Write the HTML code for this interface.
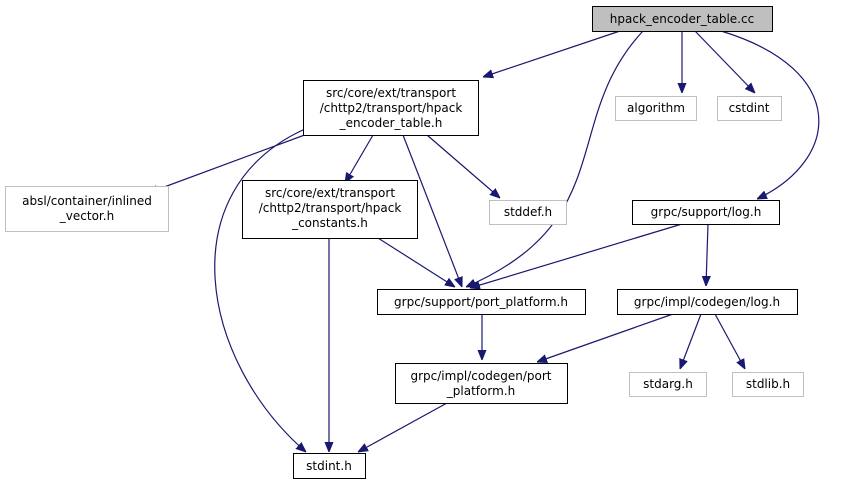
<!DOCTYPE html>
<html><head><meta charset="utf-8"><style>
html,body{margin:0;padding:0;background:#fff;}
svg{display:block;}
text{font-family:"DejaVu Sans","Liberation Sans",sans-serif;font-size:12px;fill:#000;}
</style></head><body>
<svg width="843" height="484" viewBox="0 0 843 484" xmlns="http://www.w3.org/2000/svg">
<defs><marker id="a" viewBox="0 0 10 10" refX="10" refY="5" markerWidth="10" markerHeight="10" markerUnits="userSpaceOnUse" orient="auto"><path d="M0,1 L10,5 L0,9 z" fill="#191970" stroke="#191970"/></marker></defs>
<g fill="none" stroke="#191970" stroke-width="1.2" marker-end="url(#a)">
<path d="M620,31 L483,77"/>
<path d="M682,31 L682,93"/>
<path d="M695,31 L755,93"/>
<path d="M721,31 C850,70 840,160 757,199"/>
<path d="M643,31 C560,120 620,220 466,287"/>
<path d="M310,133 L148,193"/>
<path d="M305,129 C170,190 200,360 306,452"/>
<path d="M373,135 L345,183"/>
<path d="M403,135 L462,287"/>
<path d="M427,135 L500,198"/>
<path d="M329,238 L329,452"/>
<path d="M378,238 L455,287"/>
<path d="M682,224 L470,288"/>
<path d="M708,224 L706,286"/>
<path d="M482,314 L482,360"/>
<path d="M673,314 L537,362"/>
<path d="M701,314 L680,369"/>
<path d="M715,314 L745,369"/>
<path d="M447,403 L358,452"/>
</g>
<g stroke-width="1">
<rect x="592.5" y="6.5" width="180" height="25" fill="#bfbfbf" stroke="#000"/>
<rect x="303.5" y="80.5" width="175" height="55" fill="#fff" stroke="#000"/>
<rect x="615.5" y="96.5" width="81" height="24" fill="#fff" stroke="#bfbfbf"/>
<rect x="717.5" y="96.5" width="64" height="24" fill="#fff" stroke="#bfbfbf"/>
<rect x="5.5" y="186.5" width="163" height="45" fill="#fff" stroke="#bfbfbf"/>
<rect x="242.5" y="180.5" width="175" height="58" fill="#fff" stroke="#000"/>
<rect x="489.5" y="200.5" width="77" height="24" fill="#fff" stroke="#bfbfbf"/>
<rect x="632.5" y="200.5" width="147" height="24" fill="#fff" stroke="#000"/>
<rect x="377.5" y="289.5" width="208" height="25" fill="#fff" stroke="#000"/>
<rect x="617.5" y="289.5" width="180" height="25" fill="#fff" stroke="#000"/>
<rect x="395.5" y="363.5" width="172" height="40" fill="#fff" stroke="#000"/>
<rect x="629.5" y="372.5" width="77" height="24" fill="#fff" stroke="#bfbfbf"/>
<rect x="732.5" y="372.5" width="71" height="24" fill="#fff" stroke="#bfbfbf"/>
<rect x="293.5" y="453.5" width="72" height="25" fill="#fff" stroke="#000"/>
</g>
<g text-anchor="middle">
<text x="682" y="23">hpack_encoder_table.cc</text>
<text x="391" y="97">src/core/ext/transport</text>
<text x="391" y="112">/chttp2/transport/hpack</text>
<text x="391" y="127">_encoder_table.h</text>
<text x="656" y="112">algorithm</text>
<text x="749" y="112">cstdint</text>
<text x="87" y="205">absl/container/inlined</text>
<text x="87" y="220">_vector.h</text>
<text x="330" y="197">src/core/ext/transport</text>
<text x="330" y="212">/chttp2/transport/hpack</text>
<text x="330" y="227">_constants.h</text>
<text x="528" y="216">stddef.h</text>
<text x="706" y="216">grpc/support/log.h</text>
<text x="481" y="306">grpc/support/port_platform.h</text>
<text x="707" y="306">grpc/impl/codegen/log.h</text>
<text x="481" y="380">grpc/impl/codegen/port</text>
<text x="481" y="395">_platform.h</text>
<text x="668" y="388">stdarg.h</text>
<text x="768" y="388">stdlib.h</text>
<text x="329" y="470">stdint.h</text>
</g>
</svg>
</body></html>
